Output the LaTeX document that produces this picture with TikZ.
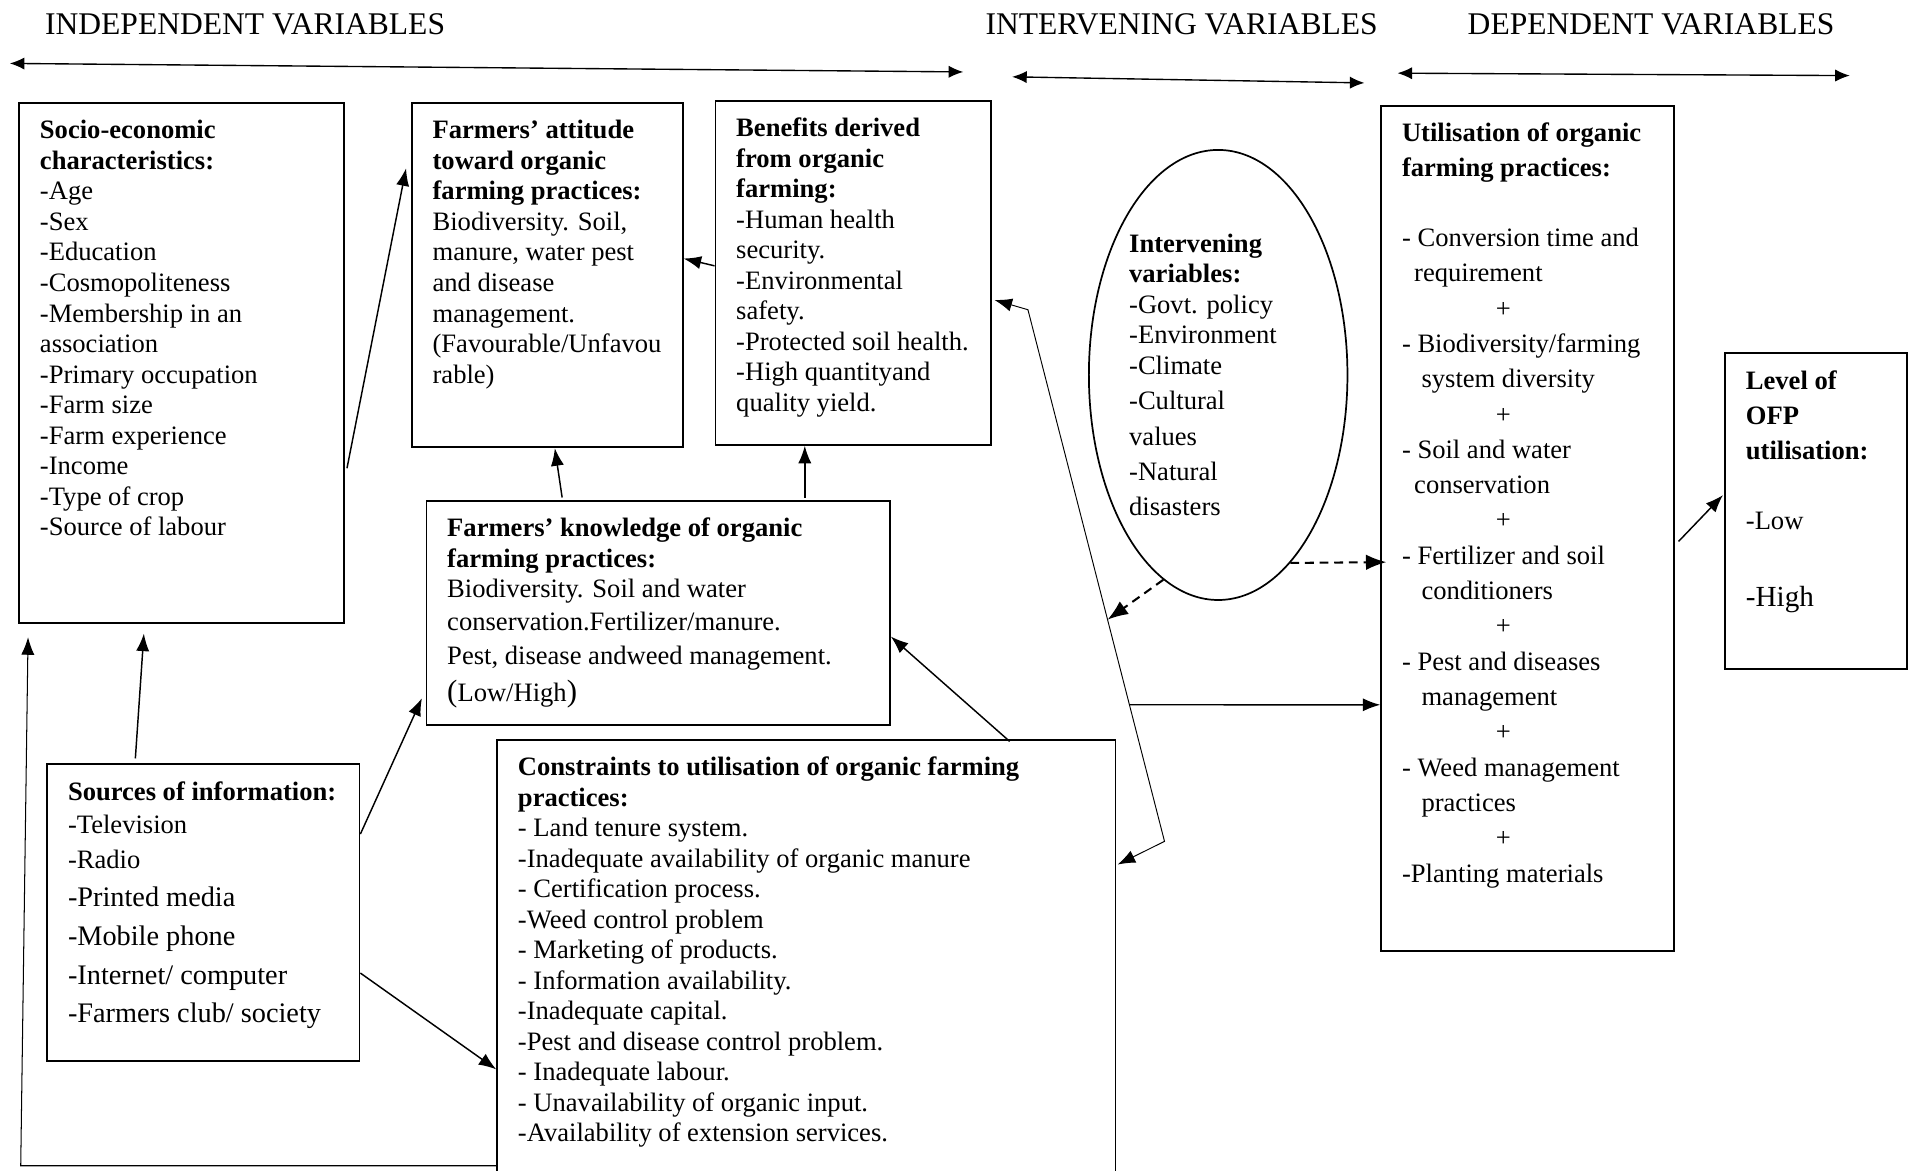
\documentclass[tikz,border=0pt]{standalone}
\usepackage{fontspec}
\setmainfont{Liberation Serif}
\usetikzlibrary{positioning, shapes.geometric, arrows.meta, calc}

\newlength{\unitpx}
\setlength{\unitpx}{0.025cm}
\newcommand{\boxtext}[3]{\parbox[c][#2\unitpx][t]{#1\unitpx}{\raggedright #3}}
\newcommand{\bigline}{\fontsize{16.5pt}{17.8pt}\selectfont}
\newcommand{\bigparen}[1]{{\fontsize{18pt}{17.8pt}\selectfont #1}}

\begin{document}
\begin{tikzpicture}[x=0.025cm, y=-0.025cm, font=\fontsize{15.5pt}{17.8pt}\selectfont,
  box/.style={draw, line width=1.1pt, inner xsep=0.425cm, inner ysep=0.35cm, anchor=north west},
  head/.style={font=\fontsize{18.4pt}{22pt}\selectfont, inner sep=0pt},
  arr/.style={-{Latex[length=0.36cm,width=0.27cm]}, line width=0.85pt},
  thinboth/.style={{Latex[length=0.36cm,width=0.27cm]}-{Latex[length=0.36cm,width=0.27cm]}, line width=0.55pt},
  dasharr/.style={-{Latex[length=0.42cm,width=0.32cm]}, line width=1.2pt, dash pattern=on 0.18cm off 0.12cm},
  spanarr/.style={{Latex[length=0.3cm,width=0.25cm]}-{Latex[length=0.3cm,width=0.25cm]}, line width=0.8pt}]

\path[use as bounding box, fill=white] (0,0) rectangle (1568,960);

% headings
\node (hind) at (201,20) [head] {INDEPENDENT VARIABLES};
\node (hint) at (969,20) [head] {INTERVENING VARIABLES};
\node (hdep) at (1354,20) [head] {DEPENDENT VARIABLES};

\coordinate (i1) at (8,52);
\coordinate (i2) at (790,59);
\coordinate (n1) at (830,63);
\coordinate (n2) at (1119,68);
\coordinate (d1) at (1146,60);
\coordinate (d2) at (1517,62);
\draw[spanarr] (i1) -- (i2);
\draw[spanarr] (n1) -- (n2);
\draw[spanarr] (d1) -- (d2);

% boxes
\node (socio) at (15,84) [box] {\boxtext{232}{398}{\textbf{Socio-economic\\characteristics:}\\-Age\\-Sex\\-Education\\-Cosmopoliteness\\-Membership in an\\association\\-Primary occupation\\-Farm size\\-Farm experience\\-Income\\-Type of crop\\-Source of labour}};

\node (attitude) at (337,84) [box] {\boxtext{188}{254}{\textbf{Farmers' attitude\\toward organic\\farming practices:}\\Biodiversity. Soil,\\manure, water pest\\and disease\\management.\\(Favourable/Unfavou\\rable)}};

\node (benefits) at (586,82) [box] {\boxtext{192}{254}{\textbf{Benefits derived\\from organic\\farming:}\\-Human health\\security.\\-Environmental\\safety.\\-Protected soil health.\\-High quantityand\\quality yield.}};

\node (knowledge) at (349,410) [box] {\boxtext{346}{156}{\textbf{Farmers' knowledge of organic\\farming practices:}\\Biodiversity. Soil and water\\[2\unitpx]conservation.Fertilizer/manure.\\[3\unitpx]Pest, disease andweed management.\\[5\unitpx]\bigparen{(}Low/High\bigparen{)}}};

\node (sources) at (38,626) [box] {\boxtext{222}{215}{\textbf{Sources of information:}\\[2\unitpx]-Television\\[4\unitpx]-Radio\\[6\unitpx]\bigline-Printed media\\[7\unitpx]-Mobile phone\\[7\unitpx]-Internet/ computer\\[6\unitpx]-Farmers club/ society}};

\node (constraints) at (407,606) [box] {\boxtext{473}{332}{\textbf{Constraints to utilisation of organic farming\\practices:}\\- Land tenure system.\\-Inadequate availability of organic manure\\- Certification process.\\-Weed control problem\\- Marketing of products.\\- Information availability.\\-Inadequate capital.\\-Pest and disease control problem.\\- Inadequate labour.\\- Unavailability of organic input.\\-Availability of extension services.}};

\node (interv) at (999,307.5) [draw, ellipse, line width=1pt, inner sep=0pt, minimum width=5.3cm, minimum height=9.225cm] {\parbox{146\unitpx}{\raggedright\textbf{Intervening\\variables:}\\-Govt. policy\\-Environment\\-Climate\\[4\unitpx]-Cultural\\[4\unitpx]values\\[4\unitpx]-Natural\\[4\unitpx]disasters}};

\node (util) at (1132,86) [box, font=\fontsize{15.5pt}{20.6pt}\selectfont] {\boxtext{206}{665}{\textbf{Utilisation of organic\\farming practices:}\\[28\unitpx]
- Conversion time and\\
\hspace*{10\unitpx}requirement\\
\hspace*{77\unitpx}+\\
- Biodiversity/farming\\
\hspace*{16\unitpx}system diversity\\
\hspace*{77\unitpx}+\\
- Soil and water\\
\hspace*{10\unitpx}conservation\\
\hspace*{77\unitpx}+\\
- Fertilizer and soil\\
\hspace*{16\unitpx}conditioners\\
\hspace*{77\unitpx}+\\
- Pest and diseases\\
\hspace*{16\unitpx}management\\
\hspace*{77\unitpx}+\\
- Weed management\\
\hspace*{16\unitpx}practices\\
\hspace*{77\unitpx}+\\
-Planting materials}};

\node (level) at (1414,289) [box, font=\fontsize{15.5pt}{20.6pt}\selectfont] {\boxtext{115}{231}{\textbf{Level of\\OFP\\utilisation:}\\[28\unitpx]-Low\\[34\unitpx]{\fontsize{17pt}{20.6pt}\selectfont -High}}};

% connectors
\draw[arr] ($(socio.north east)+(2,300)$) -- ($(attitude.north west)+(-4,54)$);
\draw[arr] ($(benefits.north west)+(0,136)$) -- ($(attitude.north east)+(0,128)$);
\draw[arr] ($(knowledge.north west)+(112,-2)$) -- ($(attitude.south west)+(118,0)$);
\draw[arr] ($(knowledge.north west)+(311,-2)$) -- ($(benefits.south west)+(74,0)$);
\draw[arr] ($(sources.north west)+(73,-4)$) -- ($(socio.south west)+(103,8)$);
\draw[arr] ($(sources.north east)+(0,58)$) -- ($(knowledge.south west)+(-3,-23)$);
\draw[arr] ($(sources.north east)+(0,172)$) -- ($(constraints.north west)+(0,271)$);
\draw[arr] ($(constraints.north west)+(421,2)$) -- ($(knowledge.north east)+(0,112)$);

\coordinate (fb) at (17,956);
\draw[arr, line width=0.6pt] ($(constraints.north west)+(0,350)$) -- (fb) -- ($(socio.south west)+(8,11)$);

\coordinate (k1) at (955,690);
\coordinate (k2) at (843,254);
\draw[thinboth] ($(constraints.north east)+(1,103)$) -- (k1) -- (k2) -- ($(benefits.north east)+(2,164)$);
\draw[arr] ($(k2)!0.743!(k1)$) -- ($(util.north west)+(0,492)$);

\draw[dasharr] (interv.-69) -- ($(util.north west)+(5,375)$);
\draw[dasharr] (interv.255) -- ($(k2)!0.583!(k1)$);

\draw[arr] ($(util.north east)+(3,358)$) -- ($(level.north west)+(-1,117)$);
\end{tikzpicture}
\end{document}
